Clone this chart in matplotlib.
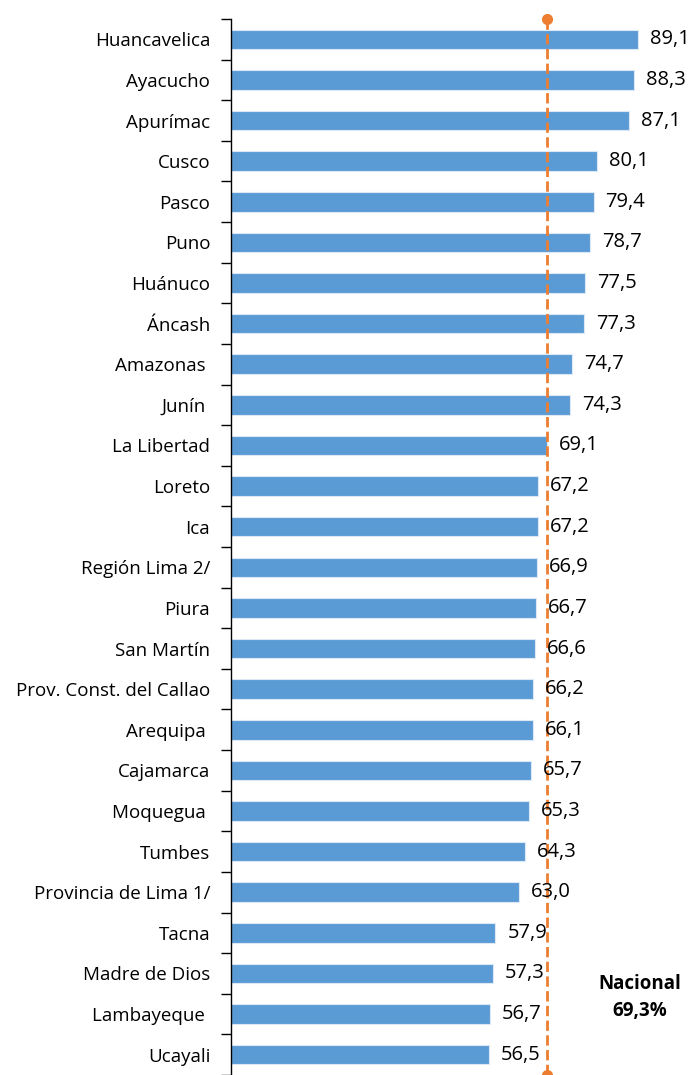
import matplotlib.pyplot as plt

# Data
regiones = ["Huancavelica", "Ayacucho", "Apurímac", "Cusco", "Pasco", "Puno",
            "Huánuco", "Áncash", "Amazonas ", "Junín ", "La Libertad", "Loreto",
            "Ica", "Región Lima 2/", "Piura", "San Martín",
            "Prov. Const. del Callao", "Arequipa ", "Cajamarca", "Moquegua ",
            "Tumbes", "Provincia de Lima 1/", "Tacna", "Madre de Dios",
            "Lambayeque ", "Ucayali"]
valores = [89.1, 88.3, 87.1, 80.1, 79.4, 78.7, 77.5, 77.3, 74.7, 74.3, 69.1,
           67.2, 67.2, 66.9, 66.7, 66.6, 66.2, 66.1, 65.7, 65.3, 64.3, 63.0,
           57.9, 57.3, 56.7, 56.5]
nacional = 69.3

plt.rcParams['font.family'] = ['Open Sans', 'DejaVu Sans']

fig = plt.figure(figsize=(6.95, 10.75), dpi=100)
ax = fig.add_axes([231 / 695, 0.0, 1 - 231 / 695, (1075 - 19) / 1075])

n = len(regiones)
pos = list(range(n))
ax.barh(pos, valores, height=0.48, color="#5B9BD5", edgecolor="#DCE8F5",
        linewidth=0.8, zorder=2)

# value labels with comma decimals
for p, v in zip(pos, valores):
    ax.text(v + 2.6, p, f"{v:.1f}".replace(".", ","), va="center", ha="left",
            fontsize=14.5, color="black", zorder=4)

# National reference line
ax.plot([nacional, nacional], [-0.5, n - 0.5], color="#ED7D31", linestyle="--",
         linewidth=2, marker="o", markersize=7, zorder=3, clip_on=False)
ax.text(89.5, n - 2.4, "Nacional\n69,3%", ha="center", va="center",
        fontsize=13.5, fontweight="bold", linespacing=1.45)

ax.set_xlim(0, 101.6)
ax.set_ylim(n - 0.5, -0.5)

# tick marks between categories, labels centred on bars
ax.set_yticks([p + 0.5 for p in range(-1, n)], minor=False)
ax.set_yticklabels([])
ax.set_yticks(pos, minor=True)
ax.set_yticklabels(regiones, minor=True, fontsize=13.5)
ax.tick_params(axis="y", which="major", length=7, width=1, direction="out")
ax.tick_params(axis="y", which="minor", length=0, pad=15)
ax.set_xticks([])

for s in ["top", "right", "bottom"]:
    ax.spines[s].set_visible(False)
ax.spines["left"].set_linewidth(1)

fig.savefig("out.png", dpi=100)
